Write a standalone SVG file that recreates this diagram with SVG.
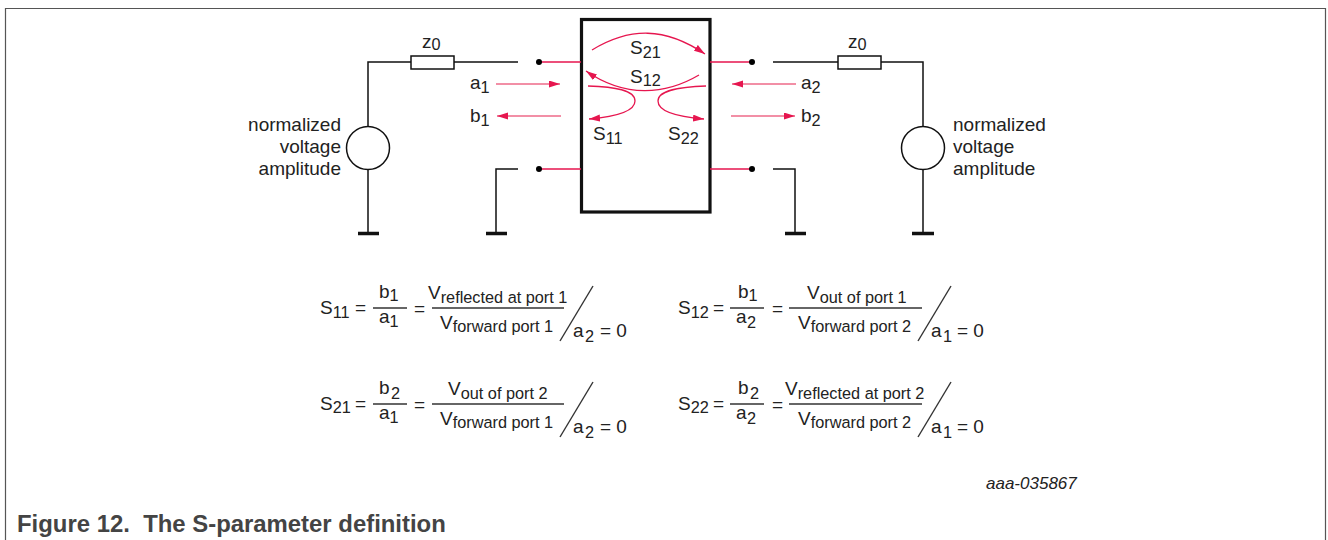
<svg xmlns="http://www.w3.org/2000/svg" width="1328" height="540" viewBox="0 0 1328 540">
<style>
text{font-family:"Liberation Sans",Arial,sans-serif;font-size:19px;fill:#222}
.e{text-anchor:end}
.w{fill:none;stroke:#111;stroke-width:1.5}
.g{fill:none;stroke:#111;stroke-width:3.5}
.r{fill:none;stroke:#e6164f;stroke-width:1.6}
.p{fill:none;stroke:#e6164f;stroke-width:1.3}
.l{fill:none;stroke:#ee6a88;stroke-width:1.6}
.f{fill:none;stroke:#333;stroke-width:1.4}
.d{fill:#000}
.s{font-size:16.300px}
</style>
<defs>
<marker id="ah" markerUnits="userSpaceOnUse" markerWidth="13" markerHeight="9" refX="11" refY="3.500" orient="auto"><path d="M0 0L11 3.500L0 7z" fill="#e6164f"/></marker>
</defs>
<path d="M5.500 540V8.500H1325.500V540" fill="none" stroke="#555" stroke-width="1.200"/>
<g id="dut"><rect x="581.500" y="19.500" width="128.500" height="192.500" fill="none" stroke="#111" stroke-width="3.200"/></g>
<g id="source-left"><circle cx="368" cy="148" r="21.500" fill="#fff" stroke="#111" stroke-width="1.500"/>
<text class="e" x="341" y="131">normalized</text><text class="e" x="341" y="153">voltage</text><text class="e" x="341" y="175">amplitude</text></g>
<g id="source-right"><circle cx="923" cy="148" r="21.500" fill="#fff" stroke="#111" stroke-width="1.500"/>
<text x="953" y="131">normalized</text><text x="953" y="153">voltage</text><text x="953" y="175">amplitude</text></g>
<g id="z0-left"><rect x="411" y="56" width="43" height="13" fill="#fff" stroke="#111" stroke-width="1.500"/><text x="422" y="48">z<tspan class="s" dy="2">0</tspan></text></g>
<g id="z0-right"><rect x="838" y="56" width="43" height="13" fill="#fff" stroke="#111" stroke-width="1.500"/><text x="848" y="48">z<tspan class="s" dy="2">0</tspan></text></g>
<g id="connectors">
<path class="w" d="M368 126.500V62H411M454 62H518M368 169.500V233M518 169H496V233M773 62H838M881 62H923V126.500M923 169.500V233M773 169H795V233"/>
<path class="g" d="M358 233.500H379M486 233.500H507M785 233.500H806M912 233.500H934"/>
<path class="r" d="M539 62H581M539 169H581M710 62H752M710 169H752"/>
<circle class="d" cx="539" cy="62" r="3"/><circle class="d" cx="539" cy="169" r="3"/><circle class="d" cx="752" cy="62" r="3"/><circle class="d" cx="752" cy="169" r="3"/>
<path class="l" d="M496 84H560" marker-end="url(#ah)"/>
<path class="l" d="M561 116H497" marker-end="url(#ah)"/>
<path class="l" d="M796 84H732" marker-end="url(#ah)"/>
<path class="l" d="M731 116H795" marker-end="url(#ah)"/>
<path class="p" d="M592 50C630 27 665 27 705 54" marker-end="url(#ah)"/>
<path class="p" d="M699 75C665 95 625 98 586 71" marker-end="url(#ah)"/>
<path class="p" d="M588 86C615 87 635 90 635 101C635 112 612 117 589 119" marker-end="url(#ah)"/>
<path class="p" d="M706 86C680 87 658 90 658 101C658 112 680 117 704 119" marker-end="url(#ah)"/>
</g>
<g id="labels">
<text x="470" y="89">a<tspan class="s" dy="4">1</tspan></text><text x="470" y="122">b<tspan class="s" dy="4">1</tspan></text>
<text x="801" y="89">a<tspan class="s" dy="4">2</tspan></text><text x="801" y="122">b<tspan class="s" dy="4">2</tspan></text>
<text x="630" y="54">S<tspan class="s" dy="4">21</tspan></text><text x="630" y="83">S<tspan class="s" dy="3">12</tspan></text>
<text x="593" y="140">S<tspan class="s" dy="4">11</tspan></text><text x="668" y="140">S<tspan class="s" dy="4">22</tspan></text>
</g>
<g id="eq-s11">
<text x="320" y="314">S<tspan class="s" dy="4">11</tspan></text><text x="355" y="314">=</text>
<text x="379" y="298">b<tspan class="s" dy="3">1</tspan></text><path class="f" d="M373 308H407"/><text x="379" y="323">a<tspan class="s" dy="4">1</tspan></text>
<text x="414" y="315">=</text>
<text x="428" y="299">V<tspan class="s" dy="4">reflected at port 1</tspan></text><path class="f" d="M432 308H564"/>
<text x="440" y="329">V<tspan class="s" dy="3">forward port 1</tspan></text>
<path class="f" d="M593 286L560 341"/><text x="573" y="337">a</text><text class="s" x="585" y="342">2</text><text x="600" y="337">= 0</text>
</g>
<g id="eq-s21">
<text x="320" y="410">S<tspan class="s" dy="3">21</tspan></text><text x="355" y="410">=</text>
<text x="379" y="394">b</text><text class="s" x="391" y="399">2</text><path class="f" d="M373 404H407"/><text x="379" y="419">a<tspan class="s" dy="4">1</tspan></text>
<text x="414" y="411">=</text>
<text x="448" y="395">V<tspan class="s" dy="4">out of port 2</tspan></text><path class="f" d="M432 404H564"/>
<text x="440" y="425">V<tspan class="s" dy="3">forward port 1</tspan></text>
<path class="f" d="M593 382L560 437"/><text x="573" y="433">a</text><text class="s" x="585" y="438">2</text><text x="600" y="433">= 0</text>
</g>
<g id="eq-s12">
<text x="678" y="314">S<tspan class="s" dy="4">12</tspan></text><text x="713" y="314">=</text>
<text x="738" y="298">b<tspan class="s" dy="3">1</tspan></text><path class="f" d="M730 308H764"/><text x="736" y="323">a</text><text class="s" x="747" y="328">2</text>
<text x="772" y="315">=</text>
<text x="807" y="299">V<tspan class="s" dy="4">out of port 1</tspan></text><path class="f" d="M789 308H922"/>
<text x="798" y="329">V<tspan class="s" dy="3">forward port 2</tspan></text>
<path class="f" d="M951 286L918 341"/><text x="931" y="337">a</text><text class="s" x="943" y="342">1</text><text x="957" y="337">= 0</text>
</g>
<g id="eq-s22">
<text x="678" y="410">S<tspan class="s" dy="3">22</tspan></text><text x="713" y="410">=</text>
<text x="738" y="394">b</text><text class="s" x="750" y="399">2</text><path class="f" d="M730 404H764"/><text x="736" y="419">a</text><text class="s" x="747" y="424">2</text>
<text x="772" y="411">=</text>
<text x="785" y="395">V<tspan class="s" dy="4">reflected at port 2</tspan></text><path class="f" d="M789 404H922"/>
<text x="798" y="425">V<tspan class="s" dy="3">forward port 2</tspan></text>
<path class="f" d="M951 382L918 437"/><text x="931" y="433">a</text><text class="s" x="943" y="438">1</text><text x="957" y="433">= 0</text>
</g>
<text x="986" y="489" style="font-style:italic;font-size:17px">aaa-035867</text>
<text x="17" y="532" xml:space="preserve" style="font-weight:bold;font-size:23.900px;fill:#444">Figure 12.  The S-parameter definition</text>
</svg>
